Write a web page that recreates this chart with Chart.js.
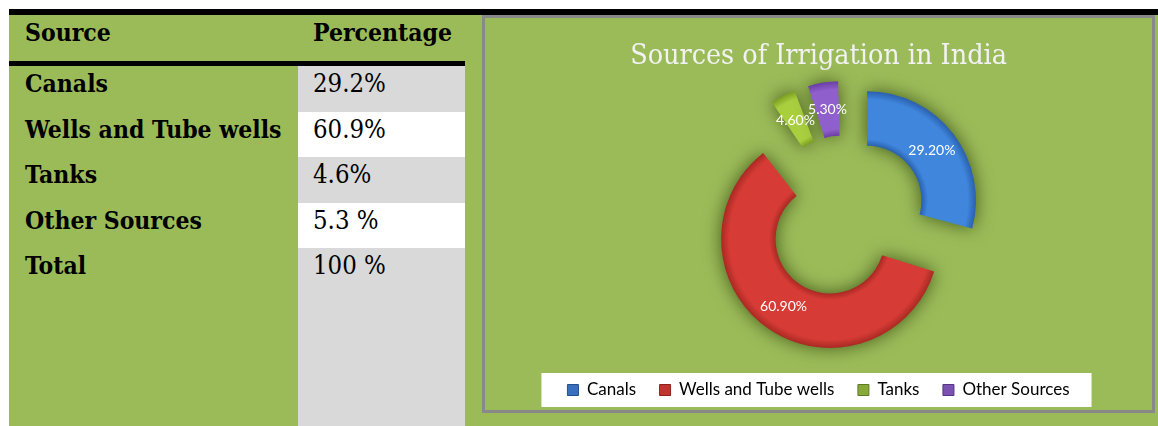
<!DOCTYPE html>
<html>
<head>
<meta charset="utf-8">
<script src="https://cdn.jsdelivr.net/npm/chart.js@4.4.1/dist/chart.umd.min.js"></script>
<style>
  html, body { margin: 0; padding: 0; background: #fff; }
  #page { position: relative; width: 1158px; height: 426px; overflow: hidden; }
  .block { position: absolute; }
  #topRule { left: 9px; top: 9px; width: 1149px; height: 6px; background: #000; }
  #tableBg { left: 9px; top: 15px; width: 456px; height: 411px; background: #9bbb59; }
  #rightBg { left: 465px; top: 15px; width: 693px; height: 411px; background: #9bbb59; }
  #headRule { left: 9px; top: 61px; width: 456px; height: 5px; background: #000; }
  .cell {
    position: absolute; box-sizing: border-box; white-space: nowrap; color: #000;
    font-family: 'DejaVu Serif Condensed', 'DejaVu Serif', serif; line-height: 1;
  }
  .name { left: 9px; width: 289px; padding-left: 16px; font-weight: bold; font-size: 24.5px; padding-top: 6px; }
  .pct { left: 298px; width: 167px; padding-left: 15px; font-size: 25.5px; padding-top: 5px; }
  .head { font-weight: bold; font-size: 24.5px; padding-top: 6px; }
  #chartBox { left: 482px; top: 15px; width: 673px; height: 398px; box-sizing: border-box; border: 3px solid #898989; }
  #chartBox canvas { position: absolute; left: 0; top: 0; }
</style>
</head>
<body>
<div id="page">
  <div class="block" id="tableBg"></div>
  <div class="block" id="rightBg"></div>
  <div class="block" id="topRule"></div>
  <div id="table"></div>
  <div class="block" id="headRule"></div>
  <div class="block" id="chartBox"><canvas id="chart" width="667" height="392"></canvas></div>
</div>
<script>
const sources = ['Canals', 'Wells and Tube wells', 'Tanks', 'Other Sources'];
const shares = [29.2, 60.9, 4.6, 5.3];
const shareText = ['29.2%', '60.9%', '4.6%', '5.3 %'];
const headers = ['Source', 'Percentage'];
const totalRow = ['Total', '100 %'];

// slice fills (mid tone / rim) and legend key colours
const sliceBase = ['#3f86dc', '#d63b35', '#a9cf3f', '#8f5fcc'];
const sliceRim = ['#2b60ad', '#a92923', '#7c9f20', '#6a3ea6'];
const keyFill = ['#3a6fbf', '#c2352e', '#87a93a', '#7b52b0'];
const keyEdge = ['#244f8f', '#8e211c', '#5f7a22', '#553584'];

const RING_RADIUS = 109;
const RING_SHIFT_X = 27;
const EXPLODE = 27;

// ---- table on the left ----
const table = document.getElementById('table');
const ROW_TOP = 66, ROW_H = 45.5;

function addCell(cls, text, top, height, bg) {
  const d = document.createElement('div');
  d.className = 'cell ' + cls;
  d.style.top = top + 'px';
  d.style.height = height + 'px';
  if (bg) d.style.background = bg;
  d.textContent = text;
  table.appendChild(d);
}

addCell('name head', headers[0], 15, 46);
addCell('pct head', headers[1], 15, 46);
sources.forEach((s, i) => {
  const top = ROW_TOP + i * ROW_H;
  addCell('name', s, top, ROW_H);
  addCell('pct', shareText[i], top, ROW_H, i % 2 === 0 ? '#d9d9d9' : '#fff');
});
const totalTop = ROW_TOP + sources.length * ROW_H;
addCell('name', totalRow[0], totalTop, 426 - totalTop);
addCell('pct', totalRow[1], totalTop, 426 - totalTop, '#d9d9d9');

// ---- doughnut ----
function ringFill(context) {
  const i = context.dataIndex;
  const chart = context.chart;
  const area = chart.chartArea;
  if (!area) return sliceBase[i];
  const cx = (area.left + area.right) / 2 + RING_SHIFT_X;
  const cy = (area.top + area.bottom) / 2;
  const g = chart.ctx.createRadialGradient(cx, cy, RING_RADIUS * 0.5, cx, cy, RING_RADIUS);
  g.addColorStop(0, sliceRim[i]);
  g.addColorStop(0.12, sliceBase[i]);
  g.addColorStop(0.85, sliceBase[i]);
  g.addColorStop(1, sliceRim[i]);
  return g;
}

// Chart.js grows the radius of exploded arcs; undo that and move the ring right
const ringPlugin = {
  id: 'ringPlugin',
  afterDatasetUpdate(chart, args) {
    args.meta.data.forEach(arc => {
      const t = (arc.options.offset || 0) / 4;
      const grow = t * (1 - Math.sin(Math.min(Math.PI, arc.circumference)));
      arc.outerRadius -= grow;
      arc.innerRadius -= grow;
      arc.x += RING_SHIFT_X;
    });
  },
  beforeDraw(chart) {
    // white panel behind the legend
    const boxes = chart.legend.legendHitBoxes;
    if (!boxes || !boxes.length) return;
    const first = boxes[0], last = boxes[boxes.length - 1];
    const midY = first.top + first.height / 2;
    const c = chart.ctx;
    c.save();
    c.fillStyle = '#fff';
    c.fillRect(first.left - 26, midY - 17, last.left + last.width - first.left + 48, 34);
    c.restore();
  },
  beforeDatasetsDraw(chart) {
    const c = chart.ctx;
    c.save();
    c.shadowColor = 'rgba(62, 84, 22, 0.95)';
    c.shadowBlur = 18;
  },
  afterDatasetsDraw(chart) {
    const c = chart.ctx;
    c.restore();
    const meta = chart.getDatasetMeta(0);
    c.save();
    c.font = '14px Lato, "Open Sans", sans-serif';
    c.fillStyle = '#fff';
    c.textAlign = 'center';
    c.textBaseline = 'middle';
    meta.data.forEach((arc, i) => {
      const t = (arc.options.offset || 0) / 4;
      const grow = t * (1 - Math.sin(Math.min(Math.PI, arc.circumference)));
      const a = (arc.startAngle + arc.endAngle) / 2;
      const r = (arc.innerRadius + arc.outerRadius) / 2 + grow + t;
      c.fillText(shares[i].toFixed(2) + '%', arc.x + Math.cos(a) * r, arc.y + Math.sin(a) * r);
    });
    c.restore();
  }
};

new Chart(document.getElementById('chart'), {
  type: 'doughnut',
  data: {
    labels: sources,
    datasets: [{
      data: shares,
      backgroundColor: ringFill,
      borderWidth: 0,
      offset: EXPLODE * 4
    }]
  },
  options: {
    responsive: false,
    animation: false,
    events: [],
    radius: RING_RADIUS,
    cutout: '50%',
    layout: { padding: { left: 0, right: 0, top: 0, bottom: 1.5 } },
    plugins: {
      title: {
        display: true,
        text: 'Sources of Irrigation in India',
        color: '#f2f2f2',
        font: { family: '"DejaVu Serif Condensed", "DejaVu Serif", serif', size: 28.4, weight: 'normal', lineHeight: 1.2 },
        padding: { top: 22, bottom: 1.4 }
      },
      legend: {
        position: 'bottom',
        labels: {
          boxWidth: 11,
          boxHeight: 11,
          padding: 23.5,
          color: '#111',
          font: { family: 'Lato, "Open Sans", sans-serif', size: 17 },
          generateLabels: () => sources.map((text, i) => ({
            text,
            fillStyle: keyFill[i],
            strokeStyle: keyEdge[i],
            lineWidth: 1,
            hidden: false,
            index: i
          }))
        }
      },
      tooltip: { enabled: false }
    }
  },
  plugins: [ringPlugin]
});
</script>
</body>
</html>
